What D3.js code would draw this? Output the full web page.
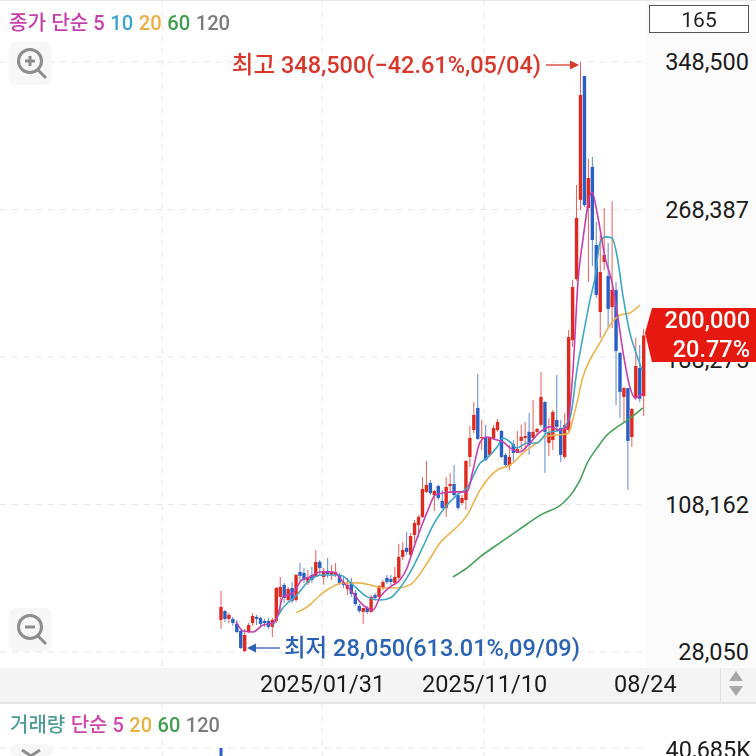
<!DOCTYPE html>
<html><head><meta charset="utf-8">
<script src="https://cdn.jsdelivr.net/npm/d3@7"></script>
<style>html,body{margin:0;padding:0;background:#fff;overflow:hidden}svg{display:block;filter:blur(0.35px)}
text{font-family:Roboto,"Noto Sans CJK KR",sans-serif}</style></head><body>
<svg id="c" width="756" height="756"></svg>
<script>
const opens=[45500,50300,46000,46000,43300,39500,28600,38900,43800,47100,
46500,44900,44900,41700,44900,58000,64500,56300,62800,56300,
71500,71000,65600,69900,68800,77000,68800,72100,69900,69900,
69900,66100,62300,65600,60100,53100,49800,52000,49800,59000,
58000,62800,68300,67700,65600,68300,79700,84600,80800,91600,
97000,101400,115000,119900,113300,118200,110100,106300,118200,119300,
113300,109000,110600,134000,148600,160600,144300,144800,135100,144300,
148600,148100,135100,129100,141000,136200,142700,144300,147600,144300,
147600,151400,163800,141600,143200,154100,149700,134000,148600,197500,
230600,273600,340900,269200,291500,249100,212700,239900,232300,215400,
224700,190500,166600,171400,144800,166000,182300,167100];
const closes=[52500,46000,48200,43800,38900,30200,37300,42700,47600,46000,
43300,43800,41700,45500,62800,63400,57400,62300,55800,69900,
69400,67200,68300,67200,77000,73700,72100,70400,71500,71500,
65000,64500,64500,59600,54100,50300,52000,49800,58000,57400,
63900,66100,66100,66100,68800,79700,83500,82400,91100,98100,
101400,116600,118800,114400,115500,111700,106300,117700,119300,113300,
106300,111700,131800,144300,156800,143800,144800,132300,144300,149700,
153000,134000,129600,134000,136200,138300,144800,145400,140500,147600,
149200,166600,147600,147000,158400,150300,135100,151400,199100,226300,
263800,330600,270800,285500,251800,222000,234400,243700,214400,224700,
191500,169300,171400,142700,160000,183400,165600,200000];
const highs=[61200,50900,49300,47100,45500,40000,40600,43800,49300,48200,
47100,46000,46500,46500,63400,68800,65600,63400,66100,70400,
76400,73700,72600,74300,83500,78000,73700,79100,75300,76400,
71000,68800,68300,68300,61700,54100,52000,53100,59000,60100,
64500,67200,69900,69900,74300,86800,87800,93300,92700,99800,
102400,123100,131800,121500,116100,118800,116100,123100,125300,129600,
114400,113300,132300,150800,163800,179100,154100,151400,144800,151400,
154600,148600,136200,140500,143200,148100,151400,153000,157900,164900,
149700,180100,164400,155200,159500,178500,154100,157900,202900,230100,
281700,348500,340900,295800,296900,261600,254500,269200,250200,273000,
229000,191000,172000,171400,160600,198600,194800,203500];
const lows=[40600,44400,43800,42200,38400,29700,28050,38400,42200,42700,
41700,41700,40600,36200,43800,49800,54700,55200,54700,55200,
66100,65600,64500,65600,68800,69900,64500,68300,67200,68800,
64500,62800,59000,58000,53100,49300,43300,48700,49300,55800,
56900,61700,65000,64500,64500,67200,78000,80800,79700,87300,
90500,100800,114400,113300,104600,110600,105700,101400,114400,112300,
105200,107900,105200,128500,147000,143200,137800,131800,134000,143200,
147600,133400,129100,126900,131300,136200,136700,137800,135100,144300,
145900,150300,125300,134500,137800,149700,131300,132900,146500,193700,
229600,268100,269800,229000,237700,220300,198600,235500,204000,204000,
162200,155200,153000,116100,139400,164900,163800,156200];

const ma5Pos=[3.8,5.6,8.1,10.6,13.2,14.4,15.7,18.2,20.5,22.5,25.1,28.4,30.9,33.4,35.9,38.5,40.3,42.8,45.3,47.1,48.6,50.4,52.4,54.2,56.2,59.7,62.3,63.8,65.6,67.3,69.9,71.4,73.2,75.7,78.2,80.8,83.3,85.8,87.6,89.1,90.4,91.6,93.9,95.4,97.2,99,100.3,101.8,103.5,104.8,106.8];
const ma5Val=[44400,39500,38900,42700,43800,48200,58000,60100,67200,68800,71500,71500,66100,60100,53600,50900,58000,63400,67200,73700,83500,94300,105200,113300,114400,115000,115000,126900,142100,144800,143200,142100,138900,136700,141600,147600,150300,148600,150300,181200,230100,251800,277900,264300,242600,228500,212200,190500,172000,166000,168800];
const ma10Pos=[13.2,15.7,19.2,22.5,25.8,30.1,33.4,37,40.3,42.8,45.3,47.8,51.1,53.7,56.2,59.7,62.3,65.6,67.3,69.9,71.4,73.2,74.9,77.5,80,82.5,85.8,88.4,90.1,91.6,93.4,94.7,95.9,97.2,99,100.3,101.8,103.5,104.8,106.6];
const ma10Val=[42700,52000,59000,67200,69900,69900,64500,58000,56300,57400,62800,71000,85100,97000,105200,113300,117200,130700,133400,139400,144300,142100,138900,141600,141600,147000,148600,155700,181200,199100,219200,231700,250200,253500,252900,242600,220900,201300,192100,181200];
const ma20Pos=[19,22.5,25.1,27.6,30.9,34.4,37.7,41,44.6,47.8,52.2,55.4,59.2,62.3,65.6,69.9,73.2,76.5,80,82.5,87.6,90.1,91.6,93.4,95.9,98.5,101,103.5,106];
const ma20Val=[49300,53600,59000,62800,65600,65600,64500,62800,62800,64500,76400,87300,94900,102400,116100,126900,129600,136200,141600,145400,146500,163300,177400,186700,195900,205700,211100,212200,216500];
const ma60Pos=[58.7,62.3,65.6,70.6,75.7,80.8,86.6,89.1,90.9,92.7,95.2,97.7,100.3,103,106.8];
const ma60Val=[68800,73700,79700,87300,94900,102400,109000,115000,121500,130700,138900,145900,150300,154100,160600];

const priceTicks=[348500,268387,188275,108162,28050];
const dateTickPos=[25.6,66.6,107.3];
const dateTickLabels=["2025/01/31","2025/11/10","08/24"];
const gridOnlyPos=[-14.9];
const volumeMax=[40685];
const priceLegend=[["종가 단순 5","#c63fae"],["10","#3ba5cc"],["20","#e9b045"],["60","#3f9d4e"],["120","#7c7c7c"]];
const volumeLegend=[["거래량","#4f9d97"],["단순 5","#cf45ad"],["20","#e9b045"],["60","#3f9d4e"],["120","#7c7c7c"]];

const UP="#e02a20",DOWN="#2a5fc6";
const svg=d3.select("#c");
const x=d3.scaleLinear().domain([0,107]).range([221,643.7]);
const y=d3.scaleLinear().domain([28050,348500]).range([652,62]);
const W=645;
const FS=23.5;

// panels
svg.append("rect").attr("x",W).attr("y",0).attr("width",111).attr("height",668).attr("fill","#fbfbfb");
svg.append("rect").attr("x",0).attr("y",0).attr("width",756).attr("height",1).attr("fill","#e8e8e8");
svg.append("rect").attr("x",0).attr("y",668).attr("width",756).attr("height",35).attr("fill","#f4f4f4");
svg.append("rect").attr("x",0).attr("y",702).attr("width",756).attr("height",2).attr("fill","#e6e6e6");
svg.append("rect").attr("x",720).attr("y",668).attr("width",1).attr("height",35).attr("fill","#e2e2e2");

// grid
const grid=svg.append("g").attr("stroke","#e6e6e6").attr("stroke-dasharray","6,6").attr("fill","none");
priceTicks.forEach(t=>grid.append("line").attr("x1",0).attr("x2",W).attr("y1",y(t)).attr("y2",y(t)));
[...gridOnlyPos,...dateTickPos.slice(0,2)].forEach(p=>{
  grid.append("line").attr("x1",x(p)).attr("x2",x(p)).attr("y1",0).attr("y2",668);
  grid.append("line").attr("x1",x(p)).attr("x2",x(p)).attr("y1",704).attr("y2",756);
});
grid.append("line").attr("x1",0).attr("x2",W).attr("y1",748).attr("y2",748);

// right price axis
const yAxis=d3.axisRight(y).tickValues(priceTicks).tickSize(0).tickPadding(0).tickFormat(d3.format(","));
const ya=svg.append("g").attr("transform","translate(749,0)").call(yAxis);
ya.select(".domain").remove();
ya.selectAll("text").attr("text-anchor","end").attr("font-size",FS).attr("fill","#1c1c1c").attr("dy","0.33em");
ya.selectAll(".tick").filter(d=>d===188275).attr("transform",`translate(0,${y(188275)+3})`);

// bottom date axis
const xAxis=d3.axisBottom(x).tickValues(dateTickPos).tickSize(0).tickFormat((d,i)=>dateTickLabels[i]);
const xa=svg.append("g").attr("transform","translate(0,684)").call(xAxis);
xa.select(".domain").remove();
xa.selectAll("text").attr("y",0).attr("dy","0.36em").attr("font-size",FS).attr("fill","#1c1c1c");

// candles
const idx=d3.range(opens.length);
const col=i=>closes[i]>=opens[i]?UP:DOWN;
svg.append("g").selectAll("line").data(idx).join("line")
  .attr("x1",i=>x(i)).attr("x2",i=>x(i)).attr("y1",i=>y(highs[i])).attr("y2",i=>y(lows[i]))
  .attr("stroke",col).attr("stroke-width",1).attr("stroke-opacity",.75);
svg.append("g").selectAll("rect").data(idx).join("rect")
  .attr("x",i=>x(i)-1.7).attr("width",3.4)
  .attr("y",i=>y(Math.max(opens[i],closes[i])))
  .attr("height",i=>Math.max(1.2,Math.abs(y(opens[i])-y(closes[i]))))
  .attr("fill",col);

// moving averages
const mk=d3.line().x(d=>x(d[0])).y(d=>y(d[1])).curve(d3.curveMonotoneX);
[[ma60Pos,ma60Val,"#45a05a"],[ma20Pos,ma20Val,"#ebb44e"],[ma10Pos,ma10Val,"#3ea6c6"],[ma5Pos,ma5Val,"#c63fae"]].forEach(([p,v,c])=>{
  svg.append("path").attr("d",mk(p.map((a,i)=>[a,v[i]]))).attr("fill","none").attr("stroke",c).attr("stroke-width",1.6);
});

// legends
function legend(items,xp,yp,size,gap,weight){
  const t=svg.append("text").attr("x",xp).attr("y",yp).attr("font-size",size).attr("font-weight",weight)
    .attr("font-family",'"Noto Sans CJK KR",sans-serif');
  items.forEach((d,i)=>t.append("tspan").attr("dx",i?gap:0).attr("fill",d[1]).text(d[0]));
}
legend(priceLegend,9,30,20.2,5.5,500);
legend(volumeLegend,10,732,20,5.5,500);

// period box
svg.append("rect").attr("x",649.5).attr("y",5.5).attr("width",99).attr("height",27).attr("fill","#fff").attr("stroke","#555");
svg.append("text").attr("x",699).attr("y",26.5).attr("text-anchor","middle").attr("font-size",21).attr("fill","#222").text("165");

// zoom icons
function icon(cx,cy,plus){
  svg.append("rect").attr("x",cx-22).attr("y",cy-21).attr("width",43).attr("height",43).attr("rx",7).attr("fill","#f7f7f7");
  const g=svg.append("g").attr("stroke","#8d8d8d").attr("fill","none").attr("stroke-width",3);
  g.append("circle").attr("cx",cx-1).attr("cy",cy-2).attr("r",11.5);
  g.append("line").attr("x1",cx+7).attr("y1",cy+7).attr("x2",cx+15).attr("y2",cy+15);
  g.append("line").attr("x1",cx-6).attr("x2",cx+4).attr("y1",cy-2).attr("y2",cy-2);
  if(plus)g.append("line").attr("x1",cx-1).attr("x2",cx-1).attr("y1",cy-7).attr("y2",cy+3);
}
icon(31,63,true);icon(31,629,false);
svg.append("rect").attr("x",10).attr("y",744).attr("width",43).attr("height",12).attr("rx",7).attr("fill","#f7f7f7");
svg.append("path").attr("d","M22 750 L31 756 L40 750").attr("fill","none").attr("stroke","#8d8d8d").attr("stroke-width",3);

// volume pane
const v=d3.scaleLinear().domain([0,volumeMax[0]]).range([800,748]);
svg.append("rect").attr("x",x(0)-1.5).attr("width",3).attr("y",v(volumeMax[0])).attr("height",v(0)-v(volumeMax[0])).attr("fill",DOWN);
svg.append("text").attr("x",751).attr("y",758).attr("text-anchor","end").attr("font-size",FS).attr("fill","#1c1c1c").text(d3.format(",")(volumeMax[0])+"K");

// date band arrows
svg.append("path").attr("d","M736 671 L743 681 L729 681 Z").attr("fill","#a8a8a8");
svg.append("path").attr("d","M729 686 L743 686 L736 696 Z").attr("fill","#a8a8a8");

// high / low annotations
svg.append("text").attr("x",541).attr("y",73).attr("text-anchor","end").attr("font-size",FS).attr("font-weight",500)
  .attr("fill","#d8382c").text("최고 348,500(−42.61%,05/04)");
svg.append("line").attr("x1",546).attr("x2",572).attr("y1",65).attr("y2",65).attr("stroke","#d8382c").attr("stroke-width",1.3);
svg.append("path").attr("d","M570 60.5 L579 65 L570 69.5 Z").attr("fill","#d8382c");
svg.append("text").attr("x",284).attr("y",656).attr("font-size",FS).attr("font-weight",500)
  .attr("fill","#2a62b4").text("최저 28,050(613.01%,09/09)");
svg.append("line").attr("x1",254).attr("x2",280).attr("y1",648).attr("y2",648).attr("stroke","#2a62b4").attr("stroke-width",1.3);
svg.append("path").attr("d","M256 643.5 L247 648 L256 652.5 Z").attr("fill","#2a62b4");

// last-price tag
svg.append("path").attr("d","M645 333 L652 308 L756 308 L756 362 L652 362 Z").attr("fill","#e5190f");
svg.append("text").attr("x",750).attr("y",328).attr("text-anchor","end").attr("font-size",FS).attr("font-weight",500).attr("fill","#fff").text(d3.format(",")(closes[closes.length-1]));
svg.append("text").attr("x",750).attr("y",357).attr("text-anchor","end").attr("font-size",FS).attr("font-weight",500).attr("fill","#fff").text("20.77%");
</script></body></html>
